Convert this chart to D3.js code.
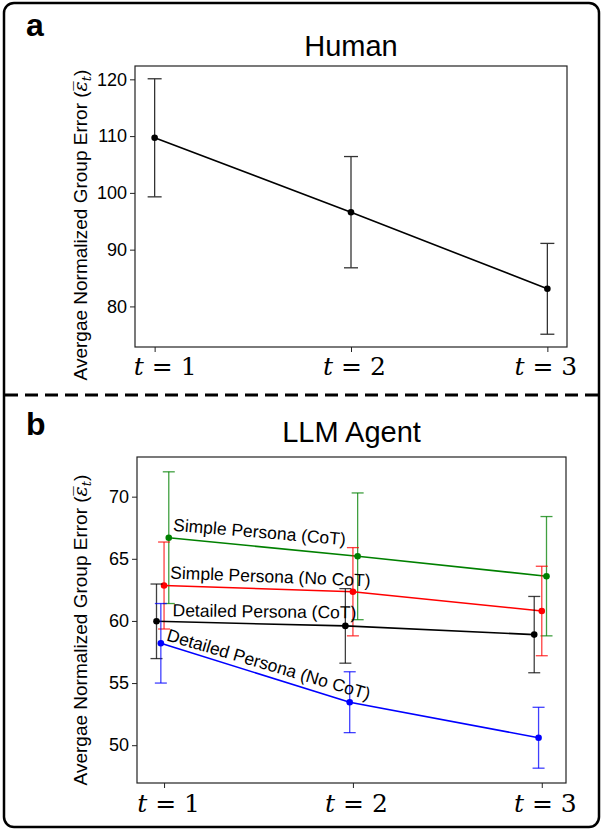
<!DOCTYPE html>
<html>
<head>
<meta charset="utf-8">
<script src="https://cdn.jsdelivr.net/npm/d3@7"></script>
<style>
  body { margin: 0; background: #fff; }
  svg { display: block; }
  .tick-y { font-family: "Liberation Sans", Arial, sans-serif; font-size: 18px; }
  .tick-x { font-family: "DejaVu Serif", serif; font-size: 25px; }
  .ylabel { font-family: "Liberation Sans", Arial, sans-serif; font-size: 19px; }
  .title { font-family: "Liberation Sans", Arial, sans-serif; font-size: 29px; }
  .panel-tag { font-family: "Liberation Sans", Arial, sans-serif; font-size: 32px; font-weight: bold; }
  .series-label { font-family: "Liberation Sans", Arial, sans-serif; font-size: 17.5px; }
</style>
</head>
<body>
<svg id="chart" width="603" height="830"></svg>
<script>
// time steps
const steps = [1, 2, 3];

// panel a: human groups
const humanMean = [109.7, 96.6, 83.1];
const humanErr = [10.4, 9.8, 8.0];
const humanTicks = [80, 90, 100, 110, 120];

// panel b: LLM agents
const agentNames = ['Simple Persona (CoT)', 'Simple Persona (No CoT)', 'Detailed Persona (CoT)', 'Detailed Persona (No CoT)'];
const simpleCotMean = [66.7, 65.2, 63.6];
const simpleCotErr = [5.3, 5.1, 4.8];
const simpleNoCotMean = [62.85, 62.35, 60.8];
const simpleNoCotErr = [3.5, 3.55, 3.6];
const detailedCotMean = [59.97, 59.6, 58.9];
const detailedCotErr = [3.0, 3.0, 3.07];
const detailedNoCotMean = [58.2, 53.46, 50.6];
const detailedNoCotErr = [3.2, 2.45, 2.45];
const agentTicks = [50, 55, 60, 65, 70];

// styling, kept apart from the values
const agentColors = ['#008000', '#ff0000', '#000000', '#0000ff'];
const agentDodge = [0.025, 0, -0.04, -0.017];
const labelShift = [[4, -7], [6, -7], [16, -5], [5, -3]];
const angleScale = [0.85, 1.2, 0.5, 0.95];

const svg = d3.select('#chart');

// outer frame and separator
svg.append('rect')
    .attr('x', 4).attr('y', 3)
    .attr('width', 595).attr('height', 824)
    .attr('rx', 10)
    .attr('fill', 'none')
    .attr('stroke', '#000')
    .attr('stroke-width', 2.5);

svg.append('line')
    .attr('x1', 5).attr('x2', 599)
    .attr('y1', 395).attr('y2', 395)
    .attr('stroke', '#000')
    .attr('stroke-width', 3)
    .attr('stroke-dasharray', '13,7');

// matplotlib-like 5% margins
function padded(lo, hi) {
    const m = (hi - lo) * 0.05;
    return [lo - m, hi + m];
}

function drawPanel(box, series, ticks, opts) {
    const g = svg.append('g');
    const xs = series.flatMap(s => s.mean.map((v, i) => i + s.dodge));
    const lows = series.flatMap(s => s.mean.map((v, i) => v - s.err[i]));
    const highs = series.flatMap(s => s.mean.map((v, i) => v + s.err[i]));

    const x = d3.scaleLinear()
        .domain(padded(d3.min(xs), d3.max(xs)))
        .range([box.left, box.right]);
    const y = d3.scaleLinear()
        .domain(padded(d3.min(lows), d3.max(highs)))
        .range([box.bottom, box.top]);

    // frame
    g.append('rect')
        .attr('x', box.left).attr('y', box.top)
        .attr('width', box.right - box.left)
        .attr('height', box.bottom - box.top)
        .attr('fill', 'none')
        .attr('stroke', '#222')
        .attr('stroke-width', 1.2);

    // y axis
    const yAxis = g.append('g')
        .attr('transform', `translate(${box.left},0)`)
        .call(d3.axisLeft(y).tickValues(ticks).tickSize(5).tickPadding(3).tickFormat(d3.format('d')));
    yAxis.select('.domain').remove();
    yAxis.selectAll('line').attr('stroke', '#222');
    yAxis.selectAll('text').attr('class', 'tick-y').attr('fill', '#000')
        .attr('font-size', null).attr('font-family', null);

    // x axis
    const xAxis = g.append('g')
        .attr('transform', `translate(0,${box.bottom})`)
        .call(d3.axisBottom(x).tickValues([0, 1, 2]).tickSize(5).tickFormat(''));
    xAxis.select('.domain').remove();
    xAxis.selectAll('line').attr('stroke', '#222');
    xAxis.selectAll('.tick').append('text')
        .attr('class', 'tick-x')
        .attr('text-anchor', 'middle')
        .attr('dx', (d, i) => opts.xLabelShift[i])
        .attr('y', opts.xLabelY)
        .attr('fill', '#000')
        .each(function(d) {
            const t = d3.select(this);
            t.append('tspan').attr('font-style', 'italic').text('t');
            t.append('tspan').text(' = ' + steps[d]);
        });

    // y label
    const yl = g.append('text')
        .attr('class', 'ylabel')
        .attr('text-anchor', 'middle')
        .attr('transform', `translate(${opts.yLabelX},${opts.yLabelY}) rotate(-90)`);
    yl.append('tspan').text('Avergae Normalized Group Error (');
    yl.append('tspan').attr('font-family', 'DejaVu Serif, serif').attr('font-style', 'italic').text('\u03b5\u0305');
    yl.append('tspan').attr('font-family', 'DejaVu Serif, serif').attr('font-style', 'italic')
        .attr('font-size', 13).attr('dy', 4).text('t');
    yl.append('tspan').attr('dy', -4).text(')');

    // title
    g.append('text')
        .attr('class', 'title')
        .attr('text-anchor', 'middle')
        .attr('x', (box.left + box.right) / 2)
        .attr('y', opts.titleY)
        .text(opts.title);

    // series
    series.forEach(s => {
        const pts = s.mean.map((v, i) => ({ x: i + s.dodge, v: v, e: s.err[i] }));
        const sg = g.append('g');

        sg.append('path')
            .datum(pts)
            .attr('fill', 'none')
            .attr('stroke', s.color)
            .attr('stroke-width', 1.6)
            .attr('d', d3.line().x(d => x(d.x)).y(d => y(d.v)));

        const eb = sg.selectAll('.err')
            .data(pts)
            .enter()
            .append('g')
            .attr('stroke', s.errColor)
            .attr('stroke-opacity', s.errOpacity)
            .attr('stroke-width', 1.3);
        eb.append('line')
            .attr('x1', d => x(d.x)).attr('x2', d => x(d.x))
            .attr('y1', d => y(d.v - d.e)).attr('y2', d => y(d.v + d.e));
        eb.append('line')
            .attr('x1', d => x(d.x) - opts.cap).attr('x2', d => x(d.x) + opts.cap)
            .attr('y1', d => y(d.v + d.e)).attr('y2', d => y(d.v + d.e));
        eb.append('line')
            .attr('x1', d => x(d.x) - opts.cap).attr('x2', d => x(d.x) + opts.cap)
            .attr('y1', d => y(d.v - d.e)).attr('y2', d => y(d.v - d.e));

        sg.selectAll('circle')
            .data(pts)
            .enter()
            .append('circle')
            .attr('cx', d => x(d.x))
            .attr('cy', d => y(d.v))
            .attr('r', 3.3)
            .attr('fill', s.color);
    });

    // in-line series labels, rotated along the first segment
    series.filter(s => s.label).forEach(s => {
        const x0 = x(s.dodge), y0 = y(s.mean[0]);
        const x1 = x(1 + s.dodge), y1 = y(s.mean[1]);
        const angle = Math.atan2(y1 - y0, x1 - x0) * 180 / Math.PI * s.angleScale;
        const ax = x0 + s.shift[0], ay = y0 + s.shift[1];
        g.append('text')
            .attr('class', 'series-label')
            .attr('transform', `translate(${ax},${ay}) rotate(${angle})`)
            .text(s.label);
    });
}

drawPanel(
    { left: 135, right: 567, top: 66, bottom: 347 },
    [{ mean: humanMean, err: humanErr, dodge: 0, color: '#000', errColor: '#333', errOpacity: 1 }],
    humanTicks,
    { title: 'Human', titleY: 56, yLabelX: 87, yLabelY: 225, xLabelY: 28, xLabelShift: [10, 3, -2], cap: 7 }
);

const agentMeans = [simpleCotMean, simpleNoCotMean, detailedCotMean, detailedNoCotMean];
const agentErrs = [simpleCotErr, simpleNoCotErr, detailedCotErr, detailedNoCotErr];

drawPanel(
    { left: 137, right: 566, top: 457, bottom: 783 },
    agentNames.map((name, k) => ({
        mean: agentMeans[k],
        err: agentErrs[k],
        dodge: agentDodge[k],
        color: agentColors[k],
        errColor: agentColors[k],
        errOpacity: 0.75,
        label: name,
        shift: labelShift[k],
        angleScale: angleScale[k]
    })),
    agentTicks,
    { title: 'LLM Agent', titleY: 442, yLabelX: 87, yLabelY: 630, xLabelY: 29, xLabelShift: [4, 3, 3], cap: 6 }
);

// panel tags
svg.append('text').attr('class', 'panel-tag').attr('x', 26).attr('y', 36).text('a');
svg.append('text').attr('class', 'panel-tag').attr('x', 26).attr('y', 435).text('b');
</script>
</body>
</html>
